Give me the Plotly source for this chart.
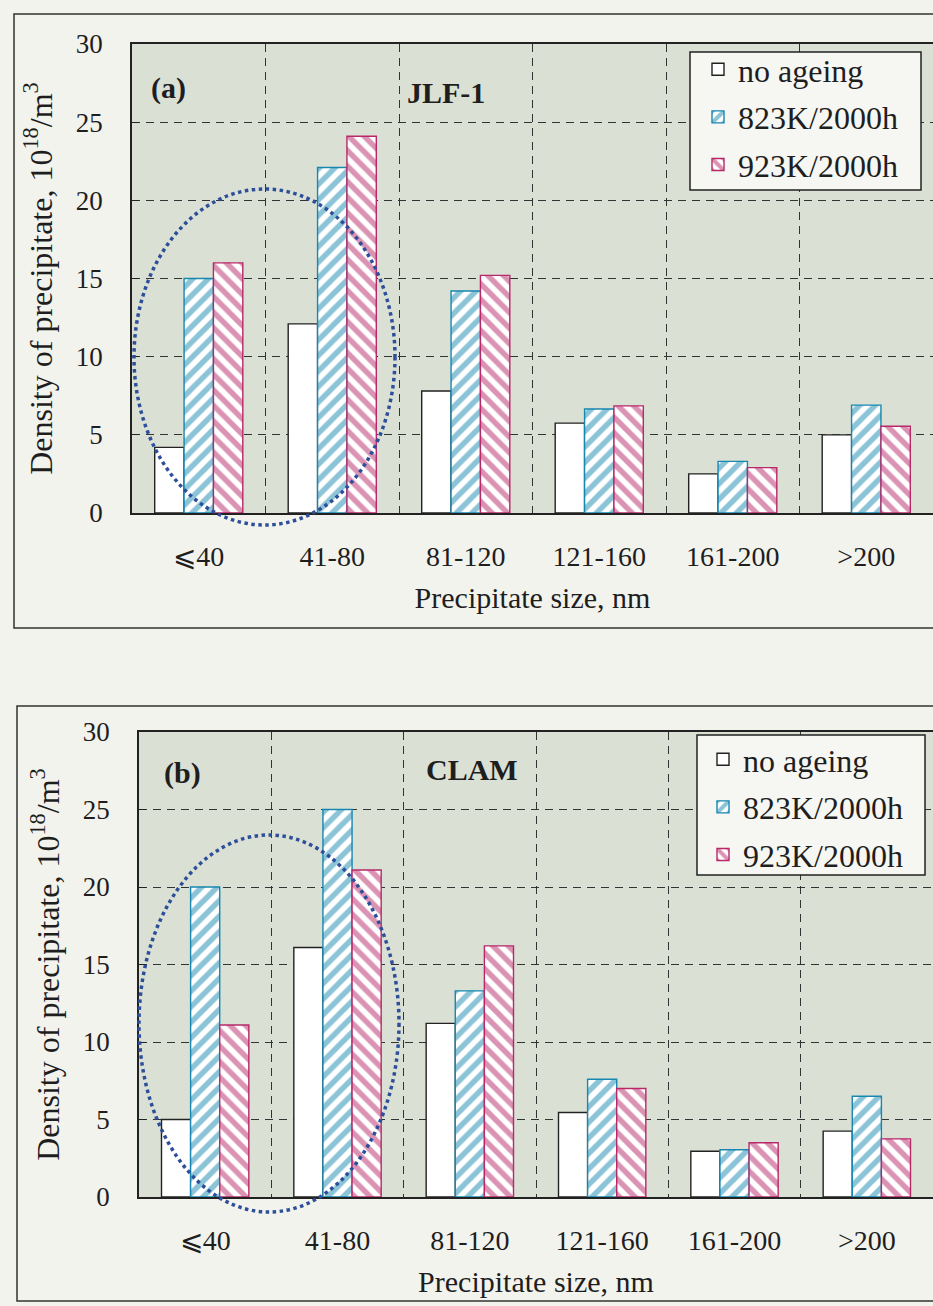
import plotly.graph_objects as go

# ---------------- data ----------------
categories = ["⩽40", "41-80", "81-120", "121-160", "161-200", ">200"]
series_names = ["no ageing", "823K/2000h", "923K/2000h"]

jlf_no_ageing = [4.2, 12.1, 7.8, 5.75, 2.5, 5.0]
jlf_823k = [15.0, 22.1, 14.2, 6.65, 3.3, 6.9]
jlf_923k = [16.0, 24.1, 15.2, 6.85, 2.9, 5.55]

clam_no_ageing = [5.0, 16.1, 11.2, 5.45, 2.95, 4.25]
clam_823k = [20.0, 25.0, 13.3, 7.6, 3.05, 6.5]
clam_923k = [11.1, 21.1, 16.2, 7.0, 3.5, 3.75]

y_ticks = [0, 5, 10, 15, 20, 25, 30]

# ---------------- style ----------------
W, H = 933, 1306
FONT = "Liberation Serif"
BLUE = "#1787b0"
PINK = "#b82868"
PAGE = "#f3f3ee"
PLOTBG = "#dbe0d5"
TXT = "#1e1e1e"


def px(x):
    return x / W


def py(y):
    return 1 - y / H


fig = go.Figure()

styles = [
    dict(pattern=None, line="#222222"),
    dict(pattern=dict(shape="/", fgcolor=BLUE, bgcolor="white", size=11, solidity=0.5), line=BLUE),
    dict(pattern=dict(shape="\\", fgcolor=PINK, bgcolor="white", size=11, solidity=0.5), line=PINK),
]

panels = [
    ("x", "y", "legend", [jlf_no_ageing, jlf_823k, jlf_923k]),
    ("x2", "y2", "legend2", [clam_no_ageing, clam_823k, clam_923k]),
]

for xa, ya, lg, series in panels:
    for name, vals, st in zip(series_names, series, styles):
        marker = dict(color="white", line=dict(color=st["line"], width=1.4))
        if st["pattern"]:
            marker["pattern"] = st["pattern"]
        fig.add_trace(go.Bar(
            x=categories, y=vals, name=name, xaxis=xa, yaxis=ya,
            marker=marker, legend=lg, legendgroup=lg + name,
        ))

tick_font = dict(family=FONT, size=27, color=TXT)

common_x = dict(
    type="category", range=[-0.5, 5.5], tickson="boundaries", ticks="",
    showgrid=True, gridcolor="#333333", gridwidth=1, griddash="8px,6px",
    showline=True, linecolor="#222222", linewidth=1.5, mirror=True,
    tickfont=dict(family=FONT, size=28, color=TXT), ticklabelstandoff=18,
    title=dict(text="Precipitate size, nm", font=dict(family=FONT, size=30, color=TXT), standoff=16),
    automargin=False,
)
common_y = dict(
    range=[0, 30], tickvals=y_ticks, ticks="inside", ticklen=7, tickcolor="#222222",
    showgrid=True, gridcolor="#333333", gridwidth=1, griddash="8px,6px",
    showline=True, linecolor="#222222", linewidth=1.5, mirror=True,
    tickfont=tick_font, ticklabelstandoff=22, zeroline=False,
    title=dict(text="Density of precipitate, 10<sup>18</sup>/m<sup>3</sup>",
               font=dict(family=FONT, size=32, color=TXT), standoff=14),
    automargin=False,
)

legend_common = dict(
    xanchor="left", yanchor="top", bgcolor="rgba(0,0,0,0)", borderwidth=0,
    font=dict(family=FONT, size=32, color=TXT), tracegroupgap=3, itemwidth=30,
)

fig.update_layout(
    width=W, height=H,
    margin=dict(l=0, r=0, t=0, b=0),
    paper_bgcolor=PAGE, plot_bgcolor=PLOTBG,
    barmode="group", bargap=0.34, bargroupgap=0,
    font=dict(family=FONT, color=TXT),
    xaxis=dict(common_x, domain=[px(132), 1.0], anchor="y"),
    yaxis=dict(common_y, domain=[py(513), py(44)], anchor="x"),
    xaxis2=dict(common_x, domain=[px(139), 1.0], anchor="y2"),
    yaxis2=dict(common_y, domain=[py(1197), py(732)], anchor="x2"),
    legend=dict(legend_common, x=px(698), y=py(42)),
    legend2=dict(legend_common, x=px(703), y=py(732)),
)

# legend frames
for x0, y0, x1, y1 in [(690, 52, 921, 190), (697, 735, 925, 875)]:
    fig.add_shape(type="rect", xref="paper", yref="paper", x0=px(x0), x1=px(x1), y0=py(y1), y1=py(y0),
                  fillcolor="#f6f6f2", line=dict(color="#222222", width=1.5), layer="above")

# panel labels
for txt, x, y in [("(a)", 168, 88), ("JLF-1", 446, 93), ("(b)", 182, 773), ("CLAM", 472, 770)]:
    fig.add_annotation(text=f"<b>{txt}</b>", x=px(x), y=py(y), xref="paper", yref="paper",
                       xanchor="center", yanchor="middle", showarrow=False,
                       font=dict(family=FONT, size=30, color=TXT))

# outer frames of the two panels
fig.add_shape(type="rect", xref="paper", yref="paper", x0=px(14), x1=1.02, y0=py(628), y1=py(14),
              line=dict(color="#333333", width=1.5), layer="below")
fig.add_shape(type="rect", xref="paper", yref="paper", x0=px(17), x1=1.02, y0=py(1301), y1=py(706),
              line=dict(color="#333333", width=1.5), layer="below")

# dotted ellipses highlighting the small precipitates
fig.add_shape(type="circle", xref="paper", yref="paper", x0=px(134), x1=px(395), y0=py(525), y1=py(189),
              line=dict(color="#2d4f9a", width=3.5, dash="dot"))
fig.add_shape(type="circle", xref="paper", yref="paper", x0=px(139), x1=px(399), y0=py(1212), y1=py(835),
              line=dict(color="#2d4f9a", width=3.5, dash="dot"))

fig.write_html(
    "out.html",
    config={"displayModeBar": False},
    post_script="document.body.style.margin='0';document.body.style.padding='0';"
                "document.body.style.overflow='hidden';",
)
